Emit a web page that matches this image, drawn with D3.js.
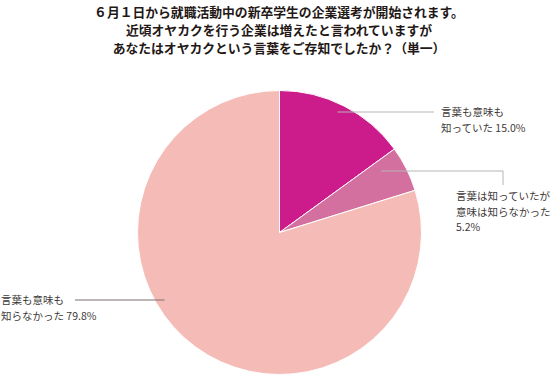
<!DOCTYPE html>
<html>
<head>
<meta charset="utf-8">
<script src="https://cdn.jsdelivr.net/npm/d3@7"></script>
<style>
  body { margin: 0; background: #fff; }
  svg { display: block; font-family: "Noto Sans CJK JP", sans-serif; }
</style>
</head>
<body>
<div id="chart"></div>
<script>
// data
var titleLines = [
    "６月１日から就職活動中の新卒学生の企業選考が開始されます。",
    "近頃オヤカクを行う企業は増えたと言われていますが",
    "あなたはオヤカクという言葉をご存知でしたか？（単一）"
];
var categories = ["言葉も意味も知っていた", "言葉は知っていたが意味は知らなかった", "言葉も意味も知らなかった"];
var values = [15.0, 5.2, 79.8];
var labelLines = [
    ["言葉も意味も", "知っていた 15.0%"],
    ["言葉は知っていたが", "意味は知らなかった", "5.2%"],
    ["言葉も意味も", "知らなかった 79.8%"]
];
var colors = ["#cc1b8a", "#d4709f", "#f5bcb7"];

var width = 555, height = 376;
var cx = 279.5, cy = 232.5, radius = 142;

var svg = d3.select("#chart").append("svg")
    .attr("width", width)
    .attr("height", height);

// title
svg.append("g").selectAll("text")
    .data(titleLines)
    .enter().append("text")
    .attr("x", 279)
    .attr("y", function (d, i) { return 17 + i * 18; })
    .attr("text-anchor", "middle")
    .attr("font-size", "12.8px")
    .attr("font-weight", "bold")
    .attr("fill", "#231815")
    .text(function (d) { return d; });

var pie = d3.pie().sort(null).value(function (d) { return d; });
var arc = d3.arc().innerRadius(0).outerRadius(radius);
var arcs = pie(values);

var g = svg.append("g").attr("transform", "translate(" + cx + "," + cy + ")");

g.selectAll("path")
    .data(arcs)
    .enter().append("path")
    .attr("d", arc)
    .attr("fill", function (d, i) { return colors[i]; })
    .attr("stroke", "#fff")
    .attr("stroke-width", 1);

// leader lines: each starts at a point inside its slice
var leaders = [
    { r: 0.9, end: [434 - cx, 112 - cy], drop: 0, text: [441, 116] },
    { r: 0.8, end: [503 - cx, 171 - cy], drop: 14, text: [456, 200] },
    { r: 0.81, end: [75 - cx, 300 - cy], drop: 0, text: [1, 304] }
];

arcs.forEach(function (a, i) {
    var L = leaders[i];
    var p = d3.arc().innerRadius(radius * L.r).outerRadius(radius * L.r).centroid(a);
    var y = L.end[1];
    var pts;
    if (i === 2) {
        pts = [[-radius * L.r, y], [L.end[0], y]];
    } else if (i === 0) {
        pts = [[p[0], y], [L.end[0], y]];
    } else {
        pts = [[p[0], y], [L.end[0], y], [L.end[0], y + L.drop]];
    }
    g.append("path")
        .attr("d", d3.line()(pts))
        .attr("fill", "none")
        .attr("stroke", i === 2 ? "#7a6e6e" : "#b5b5b5")
        .attr("stroke-width", 1);

    svg.append("g").selectAll("text")
        .data(labelLines[i])
        .enter().append("text")
        .attr("x", L.text[0])
        .attr("y", function (d, j) { return L.text[1] + j * 15.5; })
        .attr("font-size", "10.5px")
        .attr("fill", "#3e3a39")
        .text(function (d) { return d; });
});
</script>
</body>
</html>
